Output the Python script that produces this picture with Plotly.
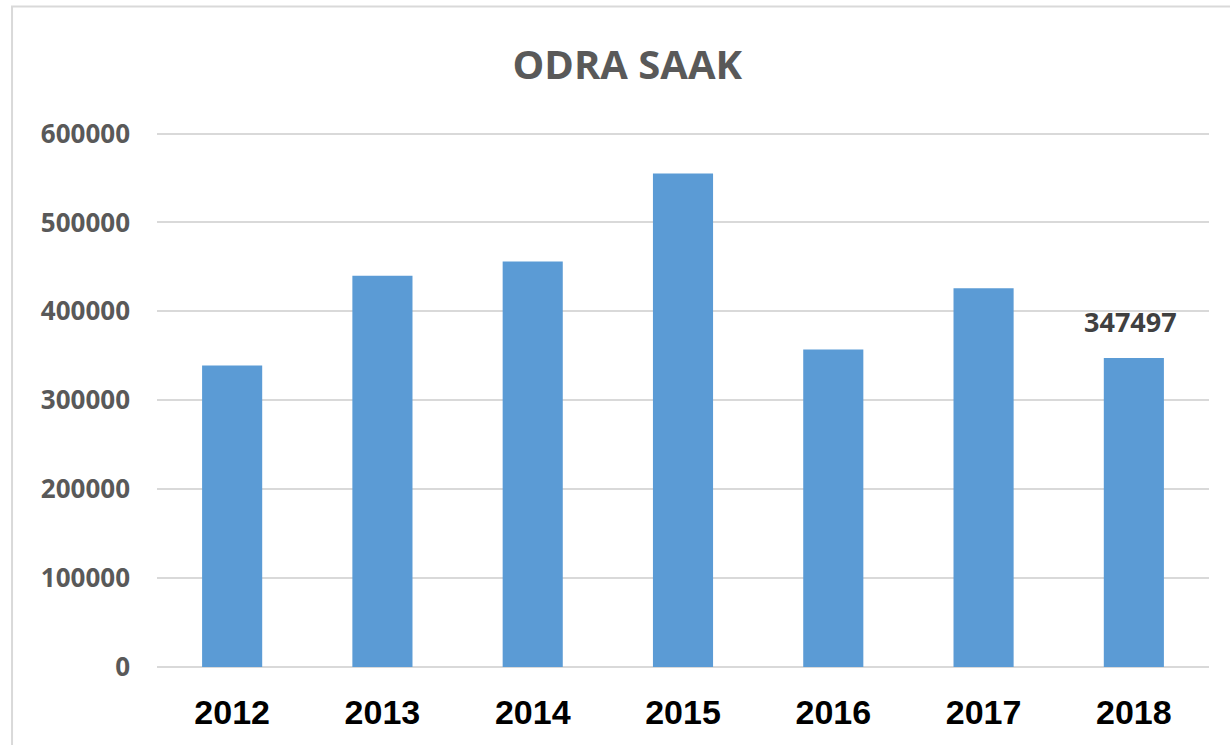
import plotly.graph_objects as go

years = ["2012", "2013", "2014", "2015", "2016", "2017", "2018"]
values = [339000, 440000, 456000, 555000, 357000, 426000, 347497]
labeled_index = 6
title_text = "ODRA SAAK"
tick_vals = [0, 100000, 200000, 300000, 400000, 500000, 600000]
tick_text = ["0", "100000", "200000", "300000", "400000", "500000", "600000"]

fig = go.Figure(go.Bar(
    x=years, y=values,
    marker=dict(color="#5b9bd5", line=dict(width=0)),
    cliponaxis=False, hoverinfo="x+y",
))

fig.add_annotation(
    x=labeled_index, y=values[labeled_index], text=str(values[labeled_index]),
    showarrow=False, yanchor="bottom", yshift=16, xshift=-3,
    font=dict(family="Open Sans", size=27, color="#404040", weight="bold"),
)

fig.update_layout(
    width=1230, height=745,
    margin=dict(l=157, r=21, t=130, b=78),
    paper_bgcolor="white", plot_bgcolor="white",
    bargap=0.6,
    showlegend=False,
    title=dict(text=title_text, x=0.51, xanchor="center", y=0.913, yanchor="middle",
               font=dict(family="Open Sans", size=40, color="#595959", weight="bold")),
    xaxis=dict(
        type="category", range=[-0.5, len(years) - 0.5],
        showgrid=False, showline=False, ticks="",
        tickfont=dict(family="Liberation Sans", size=34, color="black", weight="bold"),
        ticklabelstandoff=22,
    ),
    yaxis=dict(
        range=[0, 604000], tickvals=tick_vals, ticktext=tick_text,
        showgrid=True, gridcolor="#d9d9d9", gridwidth=2,
        zeroline=True, zerolinecolor="#d9d9d9", zerolinewidth=2,
        showline=False, ticks="",
        tickfont=dict(family="Open Sans", size=26, color="#595959", weight="bold"),
        ticklabelstandoff=26,
    ),
    shapes=[dict(type="rect", xref="paper", yref="paper",
                 x0=-0.1378, x1=1.05, y0=-0.2, y1=1.23,
                 line=dict(color="#d9d9d9", width=2), fillcolor="rgba(0,0,0,0)", layer="below")],
)

fig.write_html("out.html", config={"displayModeBar": False},
               post_script="document.body.style.margin='0';document.body.style.overflow='hidden';")
